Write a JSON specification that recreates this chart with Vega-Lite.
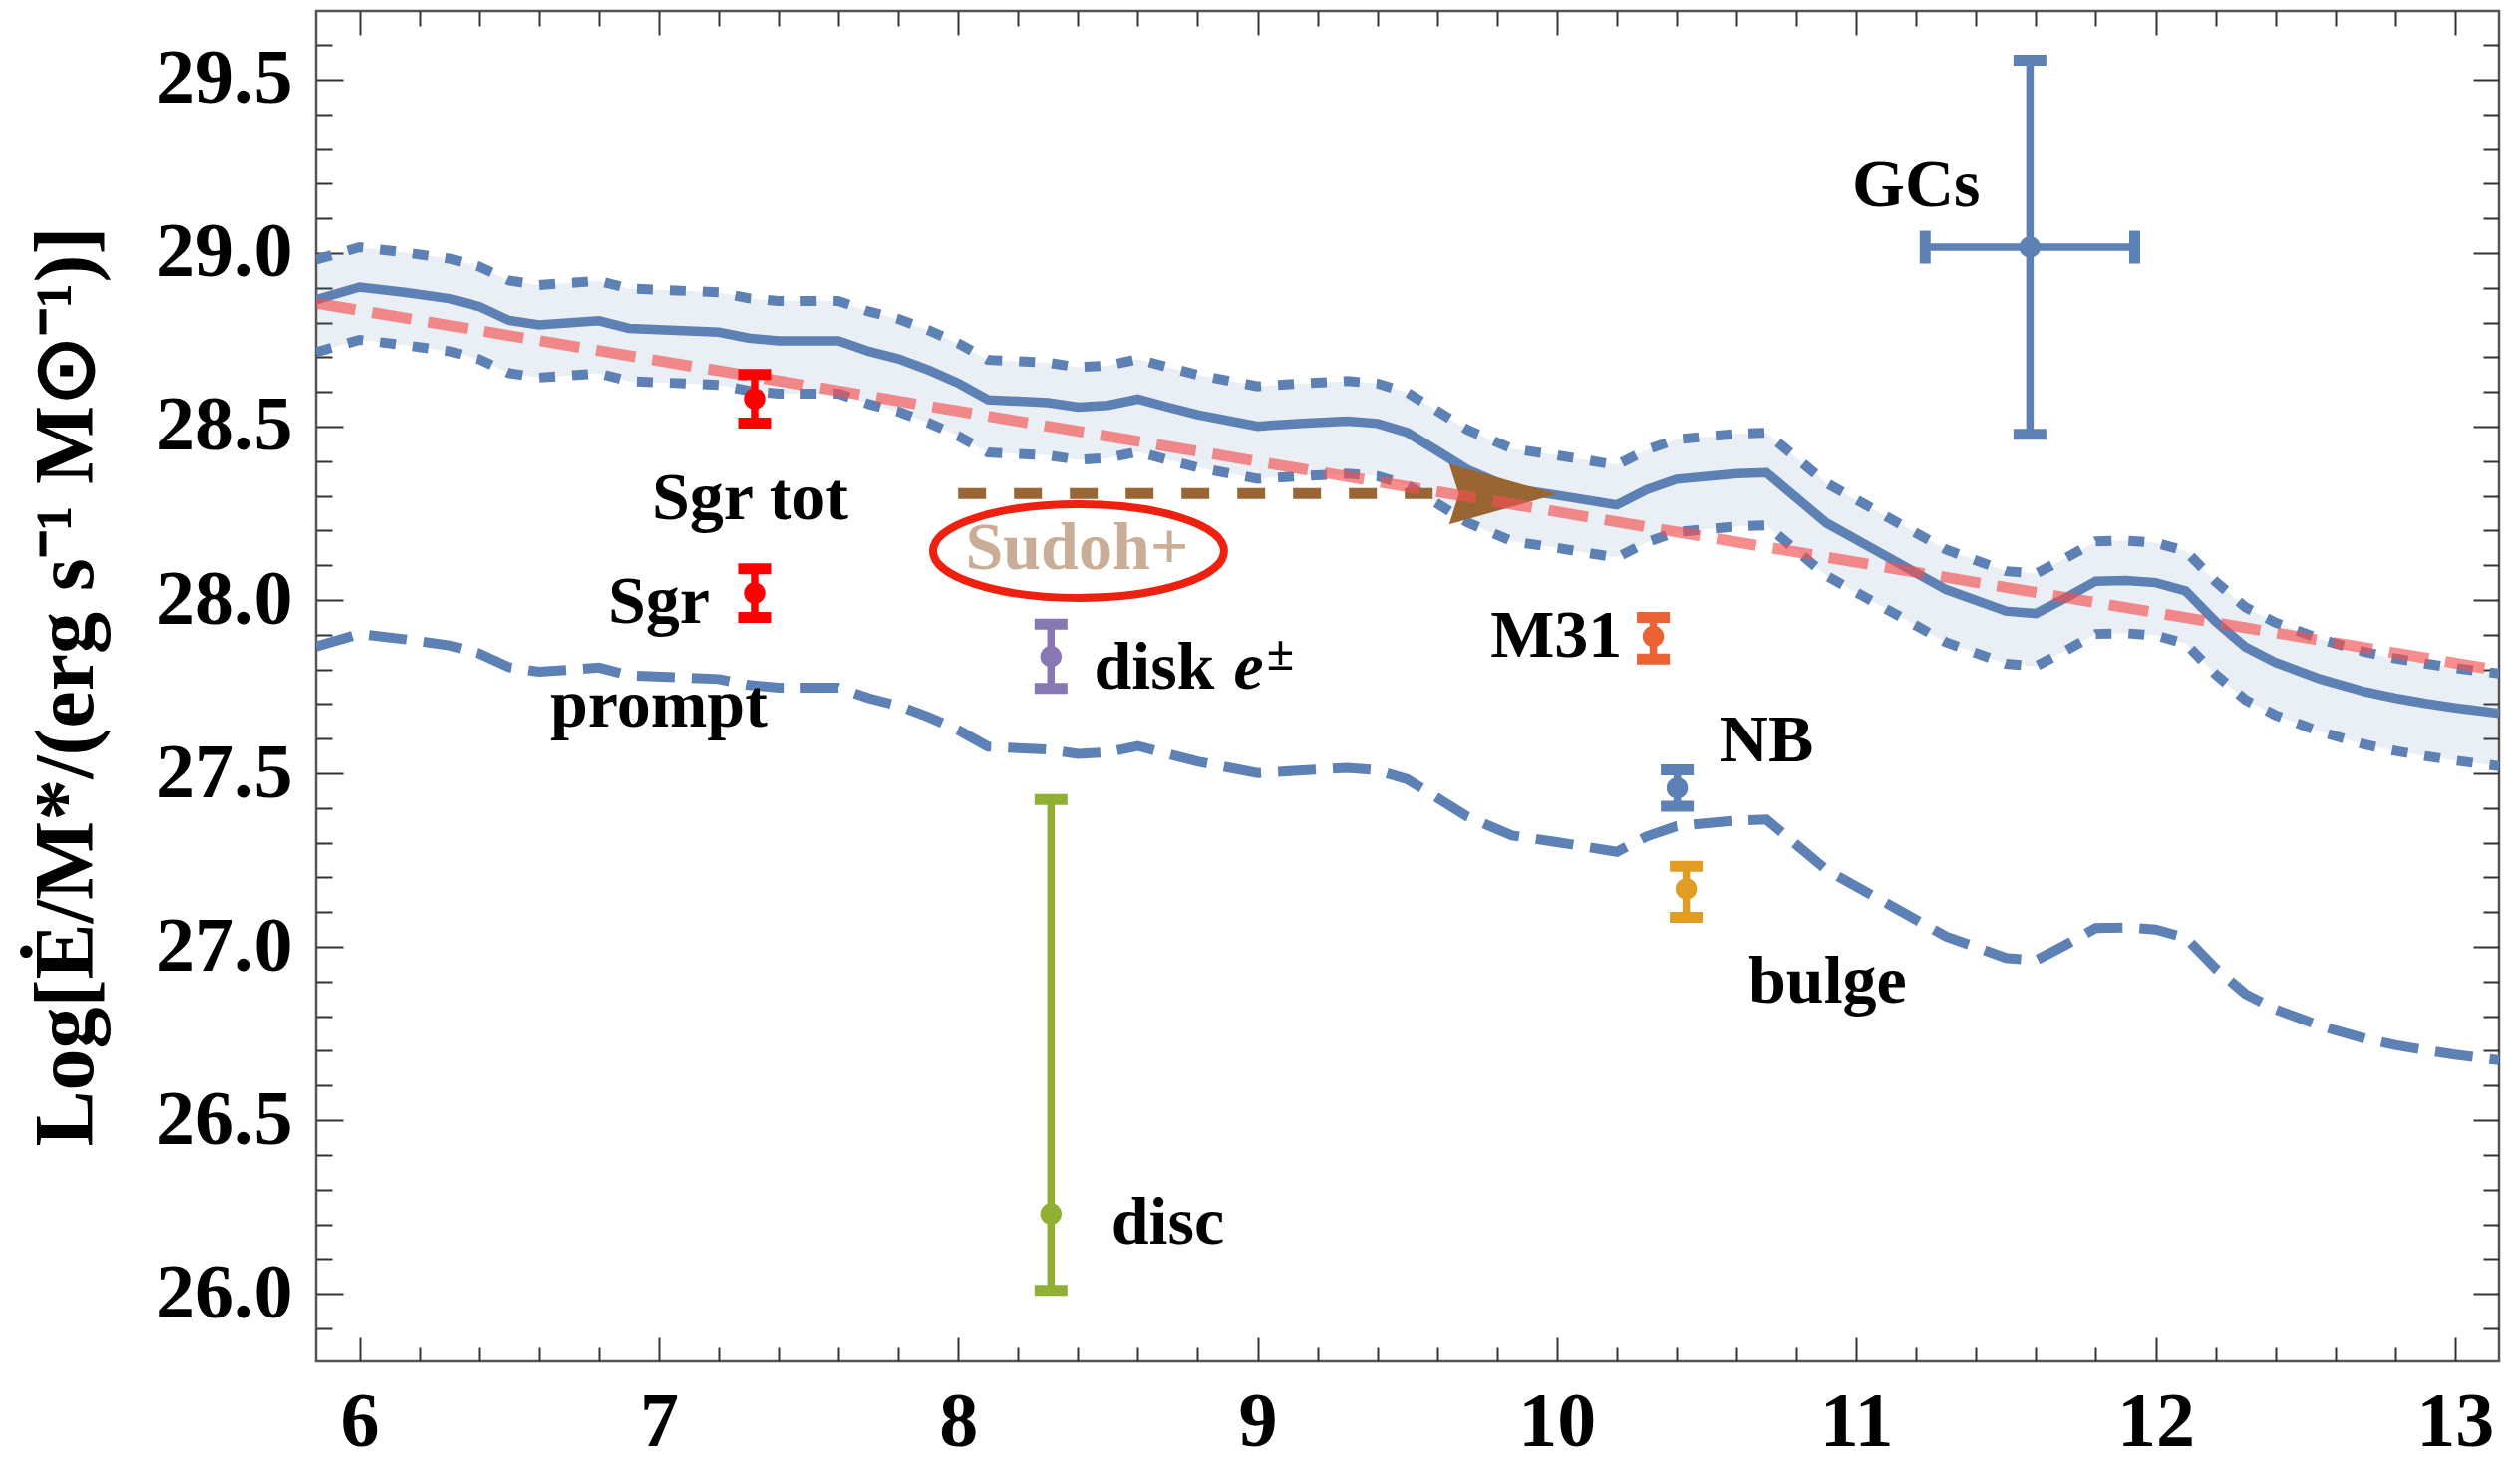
{
  "$schema": "https://vega.github.io/schema/vega-lite/v6.json",
  "width": 2190,
  "height": 1355,
  "autosize": "none",
  "padding": {"left": 317, "top": 11, "right": 21, "bottom": 102},
  "background": "white",
  "config": {"font": "Liberation Serif", "view": {"stroke": "#555555", "strokeWidth": 2.5}},
  "datasets": {
    "curve": [
      {"x": 5.855, "m": 28.866, "up": 28.981, "lo": 28.714, "pr": 27.866},
      {"x": 6.0, "m": 28.902, "up": 29.017, "lo": 28.750, "pr": 27.902},
      {"x": 6.15, "m": 28.887, "up": 29.002, "lo": 28.735, "pr": 27.887},
      {"x": 6.3, "m": 28.869, "up": 28.984, "lo": 28.717, "pr": 27.869},
      {"x": 6.4, "m": 28.846, "up": 28.961, "lo": 28.694, "pr": 27.846},
      {"x": 6.5, "m": 28.806, "up": 28.921, "lo": 28.654, "pr": 27.806},
      {"x": 6.6, "m": 28.793, "up": 28.908, "lo": 28.641, "pr": 27.793},
      {"x": 6.8, "m": 28.805, "up": 28.920, "lo": 28.653, "pr": 27.805},
      {"x": 6.9, "m": 28.783, "up": 28.898, "lo": 28.631, "pr": 27.783},
      {"x": 7.2, "m": 28.772, "up": 28.887, "lo": 28.620, "pr": 27.772},
      {"x": 7.3, "m": 28.755, "up": 28.870, "lo": 28.603, "pr": 27.755},
      {"x": 7.4, "m": 28.747, "up": 28.862, "lo": 28.595, "pr": 27.747},
      {"x": 7.6, "m": 28.747, "up": 28.862, "lo": 28.595, "pr": 27.747},
      {"x": 7.7, "m": 28.717, "up": 28.832, "lo": 28.565, "pr": 27.717},
      {"x": 7.8, "m": 28.695, "up": 28.810, "lo": 28.543, "pr": 27.695},
      {"x": 7.9, "m": 28.663, "up": 28.778, "lo": 28.511, "pr": 27.663},
      {"x": 8.0, "m": 28.625, "up": 28.740, "lo": 28.473, "pr": 27.625},
      {"x": 8.1, "m": 28.577, "up": 28.692, "lo": 28.425, "pr": 27.577},
      {"x": 8.3, "m": 28.569, "up": 28.684, "lo": 28.417, "pr": 27.569},
      {"x": 8.4, "m": 28.556, "up": 28.671, "lo": 28.404, "pr": 27.556},
      {"x": 8.5, "m": 28.561, "up": 28.676, "lo": 28.409, "pr": 27.561},
      {"x": 8.6, "m": 28.579, "up": 28.694, "lo": 28.427, "pr": 27.579},
      {"x": 8.7, "m": 28.556, "up": 28.671, "lo": 28.404, "pr": 27.556},
      {"x": 8.8, "m": 28.534, "up": 28.649, "lo": 28.382, "pr": 27.534},
      {"x": 9.0, "m": 28.501, "up": 28.616, "lo": 28.349, "pr": 27.501},
      {"x": 9.15, "m": 28.509, "up": 28.624, "lo": 28.357, "pr": 27.509},
      {"x": 9.3, "m": 28.516, "up": 28.631, "lo": 28.364, "pr": 27.516},
      {"x": 9.4, "m": 28.509, "up": 28.624, "lo": 28.357, "pr": 27.509},
      {"x": 9.5, "m": 28.483, "up": 28.598, "lo": 28.331, "pr": 27.483},
      {"x": 9.6, "m": 28.430, "up": 28.545, "lo": 28.278, "pr": 27.430},
      {"x": 9.7, "m": 28.376, "up": 28.491, "lo": 28.224, "pr": 27.376},
      {"x": 9.85, "m": 28.321, "up": 28.436, "lo": 28.169, "pr": 27.321},
      {"x": 10.0, "m": 28.302, "up": 28.417, "lo": 28.150, "pr": 27.302},
      {"x": 10.2, "m": 28.274, "up": 28.389, "lo": 28.122, "pr": 27.274},
      {"x": 10.3, "m": 28.318, "up": 28.433, "lo": 28.166, "pr": 27.318},
      {"x": 10.4, "m": 28.348, "up": 28.463, "lo": 28.196, "pr": 27.348},
      {"x": 10.6, "m": 28.364, "up": 28.479, "lo": 28.212, "pr": 27.364},
      {"x": 10.7, "m": 28.367, "up": 28.482, "lo": 28.215, "pr": 27.367},
      {"x": 10.9, "m": 28.222, "up": 28.337, "lo": 28.070, "pr": 27.222},
      {"x": 11.1, "m": 28.126, "up": 28.241, "lo": 27.974, "pr": 27.126},
      {"x": 11.3, "m": 28.030, "up": 28.145, "lo": 27.878, "pr": 27.030},
      {"x": 11.5, "m": 27.968, "up": 28.083, "lo": 27.816, "pr": 26.968},
      {"x": 11.6, "m": 27.961, "up": 28.076, "lo": 27.809, "pr": 26.961},
      {"x": 11.7, "m": 28.006, "up": 28.121, "lo": 27.854, "pr": 27.006},
      {"x": 11.8, "m": 28.054, "up": 28.169, "lo": 27.902, "pr": 27.054},
      {"x": 11.9, "m": 28.056, "up": 28.171, "lo": 27.904, "pr": 27.056},
      {"x": 12.0, "m": 28.050, "up": 28.165, "lo": 27.898, "pr": 27.050},
      {"x": 12.1, "m": 28.026, "up": 28.141, "lo": 27.874, "pr": 27.026},
      {"x": 12.2, "m": 27.938, "up": 28.053, "lo": 27.786, "pr": 26.938},
      {"x": 12.3, "m": 27.864, "up": 27.979, "lo": 27.712, "pr": 26.864},
      {"x": 12.4, "m": 27.820, "up": 27.935, "lo": 27.668, "pr": 26.820},
      {"x": 12.55, "m": 27.772, "up": 27.887, "lo": 27.620, "pr": 26.772},
      {"x": 12.7, "m": 27.735, "up": 27.850, "lo": 27.583, "pr": 26.735},
      {"x": 12.8, "m": 27.717, "up": 27.832, "lo": 27.565, "pr": 26.717},
      {"x": 12.9, "m": 27.702, "up": 27.817, "lo": 27.550, "pr": 26.702},
      {"x": 13.0, "m": 27.689, "up": 27.804, "lo": 27.537, "pr": 26.689},
      {"x": 13.147, "m": 27.673, "up": 27.788, "lo": 27.521, "pr": 26.673}
    ],
    "red": [{"x": 5.855, "y": 28.856}, {"x": 13.147, "y": 27.797}],
    "brown": [{"x": 8.0, "y": 28.307}, {"x": 9.66, "y": 28.307}],
    "arrow": [{"x": 9.82, "y": 28.305}],
    "ellipse": [{"x": 8.402, "y": 28.141}],
    "sudoh": [{"t": "Sudoh+", "x": 8.397, "y": 28.09}],
    "bars": [
      {"name": "Sgr tot", "x": 7.32, "y": 28.58, "lo": 28.51, "hi": 28.65},
      {"name": "Sgr", "x": 7.32, "y": 28.02, "lo": 27.95, "hi": 28.09},
      {"name": "disk", "x": 8.31, "y": 27.837, "lo": 27.745, "hi": 27.93},
      {"name": "disc", "x": 8.31, "y": 26.23, "lo": 26.01, "hi": 27.425},
      {"name": "M31", "x": 10.322, "y": 27.895, "lo": 27.83, "hi": 27.95},
      {"name": "NB", "x": 10.402, "y": 27.458, "lo": 27.405, "hi": 27.51},
      {"name": "bulge", "x": 10.432, "y": 27.167, "lo": 27.085, "hi": 27.232},
      {"name": "GCs", "x": 11.58, "y": 29.017, "lo": 28.478, "hi": 29.556}
    ],
    "gch": [{"name": "GCs", "y": 29.017, "xlo": 11.23, "xhi": 11.93}],
    "labels": [
      {"t": "GCs", "x": 11.2, "y": 29.136},
      {"t": "Sgr tot", "x": 7.305, "y": 28.233},
      {"t": "Sgr", "x": 7.0, "y": 27.934},
      {"t": "prompt", "x": 7.0, "y": 27.636},
      {"t": "M31", "x": 9.998, "y": 27.837},
      {"t": "NB", "x": 10.7, "y": 27.535},
      {"t": "bulge", "x": 10.904, "y": 26.839},
      {"t": "disc", "x": 8.7, "y": 26.143},
      {"t": "disk", "x": 8.655, "y": 27.743}
    ],
    "ital": [{"t": "e", "x": 8.97, "y": 27.743}],
    "sup": [{"t": "±", "x": 9.076, "y": 27.8}]
  },
  "resolve": {"axis": {"x": "independent", "y": "independent"}},
  "layer": [
    {
      "data": {"name": "curve"},
      "mark": {"type": "area", "color": "#5E81B5", "opacity": 0.13, "clip": true},
      "encoding": {
        "x": {"field": "x", "type": "quantitative", "scale": {"domain": [5.855, 13.147], "nice": false, "zero": false},
          "axis": {"orient": "bottom", "values": [6, 7, 8, 9, 10, 11, 12, 13], "format": "d", "ticks": false, "domain": false, "grid": false,
            "labelFont": "Liberation Serif", "labelFontWeight": "bold", "labelFontSize": 78, "labelColor": "black", "labelPadding": 22,
            "labelFlush": false, "labelOverlap": false, "labelBound": false, "title": null}},
        "y": {"field": "lo", "type": "quantitative", "scale": {"domain": [25.805, 29.698], "nice": false, "zero": false},
          "axis": {"orient": "left", "values": [26, 26.5, 27, 27.5, 28, 28.5, 29, 29.5], "format": ".1f", "ticks": false, "domain": false, "grid": false,
            "labelFont": "Liberation Serif", "labelFontWeight": "bold", "labelFontSize": 78, "labelColor": "black", "labelPadding": 24,
            "labelFlush": false, "labelOverlap": false, "labelBound": false,
            "title": "Log[Ė/M*/(erg s⁻¹ M⊙⁻¹)]", "titleFont": "Liberation Serif", "titleFontSize": 84, "titleFontWeight": "bold", "titleColor": "black", "titlePadding": 46}},
        "y2": {"field": "up"}
      }
    },
    {
      "data": {"name": "curve"},
      "mark": {"type": "line", "color": "#5E81B5", "strokeWidth": 10, "strokeDash": [16, 17], "clip": true},
      "encoding": {
        "x": {"field": "x", "type": "quantitative", "scale": {"domain": [5.855, 13.147], "nice": false, "zero": false},
          "axis": {"orient": "bottom", "values": [6, 7, 8, 9, 10, 11, 12, 13], "labels": false, "domain": false, "grid": false, "tickSize": 24, "offset": -24, "tickColor": "#333333", "tickWidth": 2, "title": null}},
        "y": {"field": "up", "type": "quantitative", "scale": {"domain": [25.805, 29.698], "nice": false, "zero": false},
          "axis": {"orient": "left", "values": [26, 26.5, 27, 27.5, 28, 28.5, 29, 29.5], "labels": false, "domain": false, "grid": false, "tickSize": 27, "offset": -27, "tickColor": "#333333", "tickWidth": 2, "title": null}}
      }
    },
    {
      "data": {"name": "curve"},
      "mark": {"type": "line", "color": "#5E81B5", "strokeWidth": 10, "strokeDash": [16, 17], "clip": true},
      "encoding": {
        "x": {"field": "x", "type": "quantitative", "scale": {"domain": [5.855, 13.147], "nice": false, "zero": false},
          "axis": {"orient": "bottom", "values": [6.2, 6.4, 6.6, 6.8, 7.2, 7.4, 7.6, 7.8, 8.2, 8.4, 8.6, 8.8, 9.2, 9.4, 9.6, 9.8, 10.2, 10.4, 10.6, 10.8, 11.2, 11.4, 11.6, 11.8, 12.2, 12.4, 12.6, 12.8], "labels": false, "domain": false, "grid": false, "tickSize": 14, "offset": -14, "tickColor": "#333333", "tickWidth": 2, "title": null}},
        "y": {"field": "lo", "type": "quantitative", "scale": {"domain": [25.805, 29.698], "nice": false, "zero": false},
          "axis": {"orient": "left", "values": [25.9, 26.1, 26.2, 26.3, 26.4, 26.6, 26.7, 26.8, 26.9, 27.1, 27.2, 27.3, 27.4, 27.6, 27.7, 27.8, 27.9, 28.1, 28.2, 28.3, 28.4, 28.6, 28.7, 28.8, 28.9, 29.1, 29.2, 29.3, 29.4, 29.6], "labels": false, "domain": false, "grid": false, "tickSize": 16, "offset": -16, "tickColor": "#333333", "tickWidth": 2, "title": null}}
      }
    },
    {
      "data": {"name": "curve"},
      "mark": {"type": "line", "color": "#5E81B5", "strokeWidth": 9.5, "clip": true},
      "encoding": {
        "x": {"field": "x", "type": "quantitative", "scale": {"domain": [5.855, 13.147], "nice": false, "zero": false},
          "axis": {"orient": "top", "values": [6, 7, 8, 9, 10, 11, 12, 13], "labels": false, "domain": false, "grid": false, "tickSize": 24, "offset": -24, "tickColor": "#333333", "tickWidth": 2, "title": null}},
        "y": {"field": "m", "type": "quantitative", "scale": {"domain": [25.805, 29.698], "nice": false, "zero": false},
          "axis": {"orient": "right", "values": [26, 26.5, 27, 27.5, 28, 28.5, 29, 29.5], "labels": false, "domain": false, "grid": false, "tickSize": 26, "offset": -26, "tickColor": "#333333", "tickWidth": 2, "title": null}}
      }
    },
    {
      "data": {"name": "curve"},
      "mark": {"type": "line", "color": "#5E81B5", "strokeWidth": 10, "strokeDash": [38, 17], "clip": true},
      "encoding": {
        "x": {"field": "x", "type": "quantitative", "scale": {"domain": [5.855, 13.147], "nice": false, "zero": false},
          "axis": {"orient": "top", "values": [6.2, 6.4, 6.6, 6.8, 7.2, 7.4, 7.6, 7.8, 8.2, 8.4, 8.6, 8.8, 9.2, 9.4, 9.6, 9.8, 10.2, 10.4, 10.6, 10.8, 11.2, 11.4, 11.6, 11.8, 12.2, 12.4, 12.6, 12.8], "labels": false, "domain": false, "grid": false, "tickSize": 15, "offset": -15, "tickColor": "#333333", "tickWidth": 2, "title": null}},
        "y": {"field": "pr", "type": "quantitative", "scale": {"domain": [25.805, 29.698], "nice": false, "zero": false},
          "axis": {"orient": "right", "values": [25.9, 26.1, 26.2, 26.3, 26.4, 26.6, 26.7, 26.8, 26.9, 27.1, 27.2, 27.3, 27.4, 27.6, 27.7, 27.8, 27.9, 28.1, 28.2, 28.3, 28.4, 28.6, 28.7, 28.8, 28.9, 29.1, 29.2, 29.3, 29.4, 29.6], "labels": false, "domain": false, "grid": false, "tickSize": 16, "offset": -16, "tickColor": "#333333", "tickWidth": 2, "title": null}}
      }
    },
    {
      "data": {"name": "brown"},
      "mark": {"type": "line", "color": "#996633", "strokeWidth": 11, "strokeDash": [28, 28]},
      "encoding": {
        "x": {"field": "x", "type": "quantitative", "axis": null},
        "y": {"field": "y", "type": "quantitative", "axis": null}
      }
    },
    {
      "data": {"name": "arrow"},
      "mark": {"type": "point", "shape": "M-1,-0.56L1,0L-1,0.56L-0.82,0Z", "size": 11700, "filled": true, "color": "#996633", "opacity": 1},
      "encoding": {
        "x": {"field": "x", "type": "quantitative", "axis": null},
        "y": {"field": "y", "type": "quantitative", "axis": null}
      }
    },
    {
      "data": {"name": "red"},
      "mark": {"type": "line", "color": "#f25050", "opacity": 0.65, "strokeWidth": 11, "strokeDash": [40, 17], "clip": true},
      "encoding": {
        "x": {"field": "x", "type": "quantitative", "axis": null},
        "y": {"field": "y", "type": "quantitative", "axis": null}
      }
    },
    {
      "data": {"name": "sudoh"},
      "mark": {"type": "text", "font": "Liberation Serif", "fontWeight": "bold", "fontSize": 68, "align": "center", "baseline": "alphabetic", "color": "#c9ad96"},
      "encoding": {
        "x": {"field": "x", "type": "quantitative", "axis": null},
        "y": {"field": "y", "type": "quantitative", "axis": null},
        "text": {"field": "t"}
      }
    },
    {
      "data": {"name": "ellipse"},
      "mark": {"type": "point", "shape": "M-1,0A1,0.322 0 1,0 1,0A1,0.322 0 1,0 -1,0Z", "size": 85264, "filled": false, "stroke": "#ee2010", "strokeWidth": 8, "opacity": 1},
      "encoding": {
        "x": {"field": "x", "type": "quantitative", "axis": null},
        "y": {"field": "y", "type": "quantitative", "axis": null}
      }
    },
    {
      "data": {"name": "bars"},
      "mark": {"type": "rule", "strokeWidth": 7.5, "opacity": 1},
      "encoding": {
        "x": {"field": "x", "type": "quantitative", "axis": null},
        "y": {"field": "lo", "type": "quantitative", "axis": null},
        "y2": {"field": "hi"},
        "color": {"field": "name", "type": "nominal", "legend": null,
          "scale": {"domain": ["Sgr tot", "Sgr", "disk", "disc", "M31", "NB", "bulge", "GCs"], "range": ["#ff0000", "#ff0000", "#8778B3", "#8FB032", "#EB6235", "#5E81B5", "#E19C24", "#5E81B5"]}}
      }
    },
    {
      "data": {"name": "bars"},
      "mark": {"type": "tick", "orient": "horizontal", "size": 33, "thickness": 11, "opacity": 1},
      "encoding": {
        "x": {"field": "x", "type": "quantitative", "axis": null},
        "y": {"field": "lo", "type": "quantitative", "axis": null},
        "color": {"field": "name", "type": "nominal", "legend": null}
      }
    },
    {
      "data": {"name": "bars"},
      "mark": {"type": "tick", "orient": "horizontal", "size": 33, "thickness": 11, "opacity": 1},
      "encoding": {
        "x": {"field": "x", "type": "quantitative", "axis": null},
        "y": {"field": "hi", "type": "quantitative", "axis": null},
        "color": {"field": "name", "type": "nominal", "legend": null}
      }
    },
    {
      "data": {"name": "gch"},
      "mark": {"type": "rule", "strokeWidth": 7.5, "opacity": 1},
      "encoding": {
        "x": {"field": "xlo", "type": "quantitative", "axis": null},
        "x2": {"field": "xhi"},
        "y": {"field": "y", "type": "quantitative", "axis": null},
        "color": {"field": "name", "type": "nominal", "legend": null}
      }
    },
    {
      "data": {"name": "gch"},
      "mark": {"type": "tick", "orient": "vertical", "size": 33, "thickness": 11, "opacity": 1},
      "encoding": {
        "x": {"field": "xlo", "type": "quantitative", "axis": null},
        "y": {"field": "y", "type": "quantitative", "axis": null},
        "color": {"field": "name", "type": "nominal", "legend": null}
      }
    },
    {
      "data": {"name": "gch"},
      "mark": {"type": "tick", "orient": "vertical", "size": 33, "thickness": 11, "opacity": 1},
      "encoding": {
        "x": {"field": "xhi", "type": "quantitative", "axis": null},
        "y": {"field": "y", "type": "quantitative", "axis": null},
        "color": {"field": "name", "type": "nominal", "legend": null}
      }
    },
    {
      "data": {"name": "bars"},
      "mark": {"type": "circle", "size": 460, "opacity": 1},
      "encoding": {
        "x": {"field": "x", "type": "quantitative", "axis": null},
        "y": {"field": "y", "type": "quantitative", "axis": null},
        "color": {"field": "name", "type": "nominal", "legend": null}
      }
    },
    {
      "data": {"name": "labels"},
      "mark": {"type": "text", "font": "Liberation Serif", "fontWeight": "bold", "fontSize": 68, "align": "center", "baseline": "alphabetic", "color": "black"},
      "encoding": {
        "x": {"field": "x", "type": "quantitative", "axis": null},
        "y": {"field": "y", "type": "quantitative", "axis": null},
        "text": {"field": "t"}
      }
    },
    {
      "data": {"name": "ital"},
      "mark": {"type": "text", "font": "Liberation Serif", "fontWeight": "bold", "fontStyle": "italic", "fontSize": 68, "align": "center", "baseline": "alphabetic", "color": "black"},
      "encoding": {
        "x": {"field": "x", "type": "quantitative", "axis": null},
        "y": {"field": "y", "type": "quantitative", "axis": null},
        "text": {"field": "t"}
      }
    },
    {
      "data": {"name": "sup"},
      "mark": {"type": "text", "font": "Liberation Serif", "fontWeight": "bold", "fontSize": 50, "align": "center", "baseline": "alphabetic", "color": "black"},
      "encoding": {
        "x": {"field": "x", "type": "quantitative", "axis": null},
        "y": {"field": "y", "type": "quantitative", "axis": null},
        "text": {"field": "t"}
      }
    }
  ]
}
